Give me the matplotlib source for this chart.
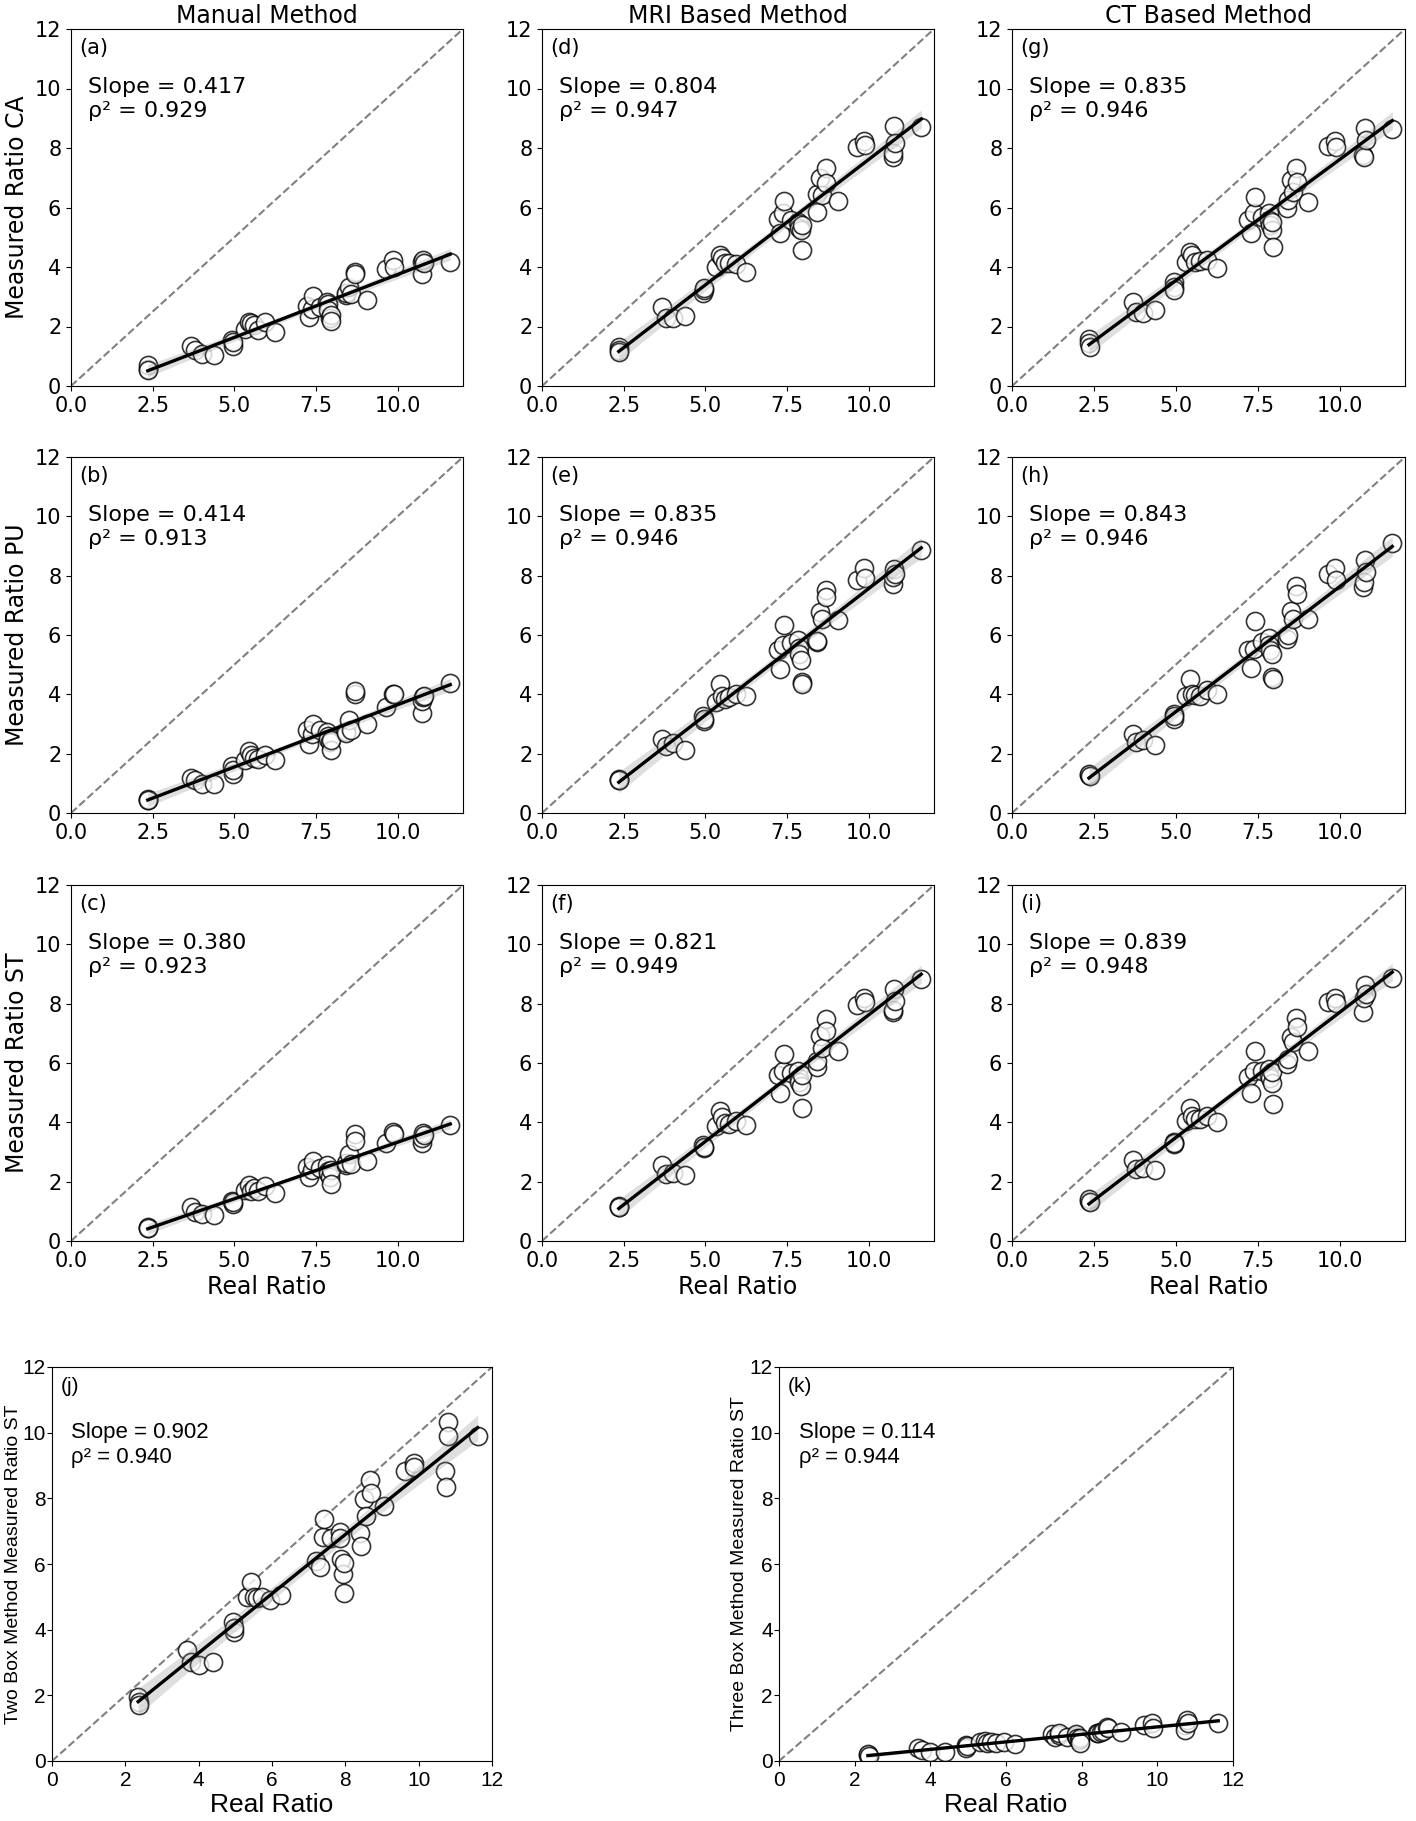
import numpy as np
import matplotlib
matplotlib.use("Agg")
import matplotlib.pyplot as plt

# real ratio (same phantoms in every panel)
real_ratio = [2.35, 2.36, 2.37, 3.68, 3.79, 4.00, 4.38, 4.94, 4.95, 4.96,
              5.32, 5.44, 5.50, 5.60, 5.73, 5.95, 6.25, 7.21, 7.30, 7.39,
              7.41, 7.62, 7.85, 7.86, 7.87, 7.94, 7.95, 7.96, 8.41, 8.43,
              8.52, 8.57, 8.68, 8.70, 9.05, 9.64, 9.86, 9.88, 10.73, 10.74,
              10.79, 10.80, 11.61]

# manual method
manual_ca = [0.58, 0.70, 0.53, 1.35, 1.20, 1.09, 1.03, 1.56, 1.35, 1.48,
             1.93, 2.15, 2.12, 2.04, 1.87, 2.15, 1.80, 2.68, 2.32, 2.60,
             3.02, 2.66, 2.83, 2.77, 2.55, 2.27, 2.38, 2.19, 3.05, 3.11,
             3.33, 3.09, 3.84, 3.76, 2.88, 3.92, 4.23, 4.00, 3.76, 4.18,
             4.23, 4.12, 4.18]
manual_pu = [0.45, 0.47, 0.43, 1.19, 1.10, 0.99, 0.97, 1.57, 1.30, 1.44,
             1.80, 2.09, 1.94, 1.85, 1.83, 1.94, 1.78, 2.81, 2.34, 2.67,
             3.01, 2.79, 2.73, 2.60, 2.51, 2.40, 2.11, 2.45, 2.76, 2.70,
             3.15, 2.81, 4.00, 4.11, 2.99, 3.57, 4.00, 4.02, 3.37, 3.78,
             3.91, 3.93, 4.39]
manual_st = [0.45, 0.47, 0.43, 1.13, 0.99, 0.90, 0.88, 1.35, 1.24, 1.31,
             1.72, 1.89, 1.67, 1.78, 1.67, 1.84, 1.61, 2.48, 2.15, 2.40,
             2.70, 2.45, 2.55, 2.36, 2.29, 2.17, 2.40, 1.91, 2.57, 2.62,
             2.93, 2.59, 3.60, 3.36, 2.70, 3.30, 3.69, 3.60, 3.30, 3.47,
             3.63, 3.58, 3.90]

# MRI based method
mri_ca = [1.31, 1.20, 1.14, 2.66, 2.27, 2.27, 2.35, 3.11, 3.22, 3.31,
          4.01, 4.40, 4.29, 4.12, 4.12, 4.09, 3.84, 5.63, 5.13, 5.80,
          6.23, 5.58, 5.52, 5.44, 5.30, 5.24, 5.40, 4.57, 5.86, 6.44,
          6.98, 6.42, 7.32, 6.84, 6.23, 8.02, 8.22, 8.10, 7.71, 7.82,
          8.74, 8.16, 8.70]
mri_pu = [1.12, 1.15, 1.10, 2.51, 2.25, 2.36, 2.13, 3.26, 3.10, 3.18,
          3.74, 4.36, 3.93, 3.85, 3.90, 4.00, 3.93, 5.51, 4.87, 5.65,
          6.33, 5.73, 5.84, 5.55, 5.37, 5.17, 4.42, 4.36, 5.76, 5.80,
          6.78, 6.55, 7.51, 7.28, 6.49, 7.87, 8.27, 7.93, 7.73, 7.96,
          8.24, 8.07, 8.85]
mri_st = [1.16, 1.18, 1.14, 2.57, 2.25, 2.29, 2.23, 3.24, 3.13, 3.18,
          3.86, 4.37, 4.17, 3.98, 3.95, 4.03, 3.90, 5.59, 4.99, 5.72,
          6.31, 5.66, 5.74, 5.50, 5.36, 5.21, 5.60, 4.48, 5.86, 6.08,
          6.90, 6.51, 7.47, 7.09, 6.40, 7.97, 8.18, 8.06, 7.73, 7.80,
          8.48, 8.09, 8.82]

# CT based method
ct_ca = [1.59, 1.43, 1.31, 2.83, 2.49, 2.46, 2.55, 3.50, 3.33, 3.24,
         4.18, 4.51, 4.40, 4.18, 4.20, 4.23, 3.97, 5.58, 5.15, 5.80,
         6.34, 5.69, 5.80, 5.58, 5.41, 5.24, 5.50, 4.68, 5.97, 6.25,
         6.92, 6.53, 7.32, 6.87, 6.20, 8.07, 8.22, 8.05, 7.77, 7.71,
         8.66, 8.27, 8.63]
ct_pu = [1.27, 1.33, 1.24, 2.67, 2.39, 2.45, 2.28, 3.35, 3.18, 3.26,
         3.93, 4.53, 4.00, 3.97, 3.95, 4.13, 4.02, 5.48, 4.90, 5.54,
         6.47, 5.76, 5.91, 5.65, 5.51, 5.37, 4.58, 4.53, 5.88, 5.99,
         6.81, 6.55, 7.64, 7.37, 6.55, 8.04, 8.27, 7.84, 7.62, 7.79,
         8.52, 8.12, 9.10]
ct_st = [1.35, 1.40, 1.30, 2.74, 2.43, 2.45, 2.40, 3.33, 3.27, 3.30,
         4.05, 4.50, 4.20, 4.12, 4.10, 4.20, 4.01, 5.52, 4.99, 5.72,
         6.42, 5.72, 5.81, 5.60, 5.50, 5.33, 5.70, 4.62, 5.95, 6.12,
         6.87, 6.71, 7.52, 7.21, 6.42, 8.06, 8.20, 8.03, 7.73, 8.20,
         8.63, 8.33, 8.87]

# box methods (ST)
two_box_st = [1.96, 1.81, 1.71, 3.38, 3.03, 2.93, 3.01, 4.22, 3.94, 4.05,
              5.01, 5.44, 5.00, 4.95, 5.00, 4.91, 5.06, 6.08, 5.90, 6.82,
              7.38, 6.79, 6.97, 6.79, 6.15, 5.69, 6.03, 5.13, 6.94, 6.55,
              7.99, 7.45, 8.57, 8.16, 7.78, 8.82, 9.07, 8.95, 8.82, 8.36,
              10.31, 9.91, 9.89]
three_box_st = [0.18, 0.22, 0.15, 0.39, 0.32, 0.28, 0.28, 0.49, 0.39, 0.45,
                0.59, 0.62, 0.54, 0.58, 0.55, 0.59, 0.52, 0.81, 0.74, 0.80,
                0.84, 0.72, 0.76, 0.82, 0.70, 0.64, 0.70, 0.54, 0.84, 0.86,
                0.89, 0.92, 1.05, 1.00, 0.89, 1.10, 1.17, 1.00, 1.10, 0.95,
                1.25, 1.17, 1.17]

panel_letters = ["a", "b", "c", "d", "e", "f", "g", "h", "i"]
grid_series = [manual_ca, manual_pu, manual_st,
               mri_ca, mri_pu, mri_st,
               ct_ca, ct_pu, ct_st]
grid_slopes = ["0.417", "0.414", "0.380", "0.804", "0.835", "0.821",
               "0.835", "0.843", "0.839"]
grid_rho2 = ["0.929", "0.913", "0.923", "0.947", "0.946", "0.949",
             "0.946", "0.946", "0.948"]
col_titles = ["Manual Method", "MRI Based Method", "CT Based Method"]
row_labels = ["Measured Ratio CA", "Measured Ratio PU", "Measured Ratio ST"]

W, H = 1416, 1821
NARROW = "Liberation Sans"


def rect(x0, y0, x1, y1):
    return [x0 / W, 1 - y1 / H, (x1 - x0) / W, (y1 - y0) / H]


def reg_panel(ax, x, y, letter, slope, rho2, txt_y, family=None):
    x = np.asarray(x)
    y = np.asarray(y)
    ax.plot([0, 12], [0, 12], ls="--", color="gray", lw=1.5, zorder=1)
    ax.scatter(x, y, s=170, facecolor="white", edgecolor="black",
               linewidths=1.2, alpha=0.8, zorder=2)
    # least squares fit with 95% confidence band
    b, a = np.polyfit(x, y, 1)
    xs = np.linspace(x.min(), x.max(), 100)
    yh = a + b * xs
    n = len(x)
    resid = y - (a + b * x)
    s = np.sqrt(np.sum(resid ** 2) / (n - 2))
    se = s * np.sqrt(1 / n + (xs - x.mean()) ** 2 / np.sum((x - x.mean()) ** 2))
    ax.fill_between(xs, yh - 2.02 * se, yh + 2.02 * se, color="gray",
                    alpha=0.25, lw=0, zorder=3)
    ax.plot(xs, yh, color="black", lw=2.4, zorder=4)
    kw = {} if family is None else {"family": family}
    ax.text(0.02, 0.975, "(%s)" % letter, transform=ax.transAxes,
            ha="left", va="top", fontsize=15, **kw)
    ax.text(0.044, txt_y, "Slope = %s\nρ² = %s" % (slope, rho2),
            transform=ax.transAxes, ha="left", va="top", fontsize=16,
            linespacing=1.25, **kw)
    ax.set_xlim(0, 12)
    ax.set_ylim(0, 12)
    ax.set_yticks(range(0, 13, 2))


fig = plt.figure(figsize=(W / 100, H / 100), dpi=100)

col_x = [(71, 463), (542, 934), (1012, 1405)]
row_y = [(29, 386), (457, 813), (885, 1241)]

k = 0
for c in range(3):
    for r in range(3):
        ax = fig.add_axes(rect(col_x[c][0], row_y[r][0], col_x[c][1], row_y[r][1]))
        reg_panel(ax, real_ratio, grid_series[k], panel_letters[k],
                  grid_slopes[k], grid_rho2[k], 0.865)
        ax.set_xticks([0, 2.5, 5, 7.5, 10])
        ax.set_xticklabels(["0.0", "2.5", "5.0", "7.5", "10.0"])
        ax.tick_params(labelsize=15)
        if r == 0:
            ax.set_title(col_titles[c], fontsize=17, pad=4)
        if c == 0:
            ax.set_ylabel(row_labels[r], fontsize=17, labelpad=4)
        if r == 2:
            ax.set_xlabel("Real Ratio", fontsize=17, labelpad=3)
        k += 1

# bottom row: box methods (narrower lettering, as in the source figure)
bottom = [((52, 1367, 492, 1761), two_box_st, "j", "0.902", "0.940",
           "Two Box Method Measured Ratio ST"),
          ((779, 1367, 1233, 1761), three_box_st, "k", "0.114", "0.944",
           "Three Box Method Measured Ratio ST")]
for box, ys, letter, slope, rho2, ylab in bottom:
    ax = fig.add_axes(rect(*box))
    reg_panel(ax, real_ratio, ys, letter, slope, rho2, 0.86, family=NARROW)
    ax.set_xticks(range(0, 13, 2))
    ax.tick_params(labelsize=15)
    ax.tick_params(axis="y", pad=1)
    for lab in ax.get_xticklabels() + ax.get_yticklabels():
        lab.set_fontfamily(NARROW)
    ax.set_xlabel("Real Ratio", fontsize=19, labelpad=2, family=NARROW)
    ax.set_ylabel(ylab, fontsize=14, family=NARROW)
    ax.yaxis.set_label_coords(-0.0675, 0.5)

fig.savefig("out.png", dpi=100)
